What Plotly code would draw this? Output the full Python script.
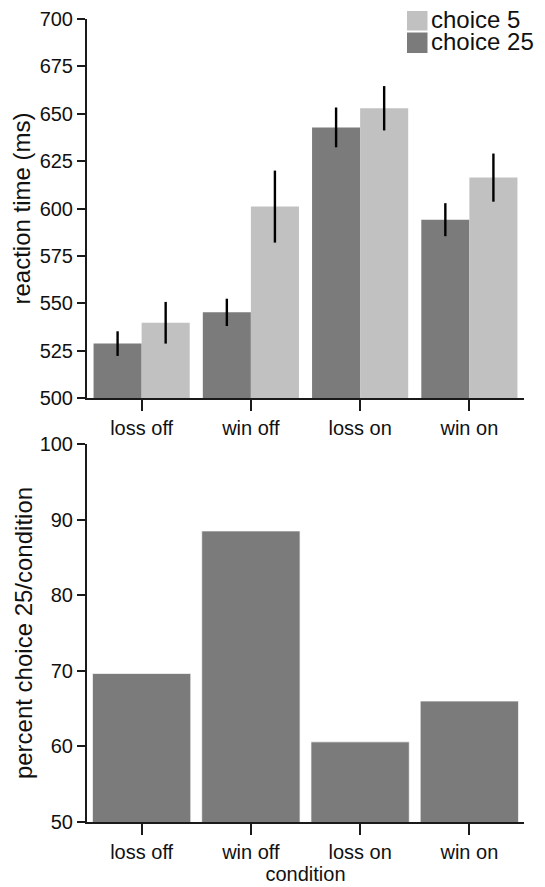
import plotly.graph_objects as go

conditions = ["loss off", "win off", "loss on", "win on"]
rt_choice25 = [528.7, 545.2, 642.8, 594.1]
rt_choice25_err = [6.5, 7.2, 10.5, 8.7]
rt_choice5 = [539.7, 601.0, 652.9, 616.3]
rt_choice5_err = [11.0, 19.0, 11.7, 12.7]
pct_choice25 = [69.65, 88.5, 60.6, 66.0]

rt_ticks = [500, 525, 550, 575, 600, 625, 650, 675, 700]
pct_ticks = [50, 60, 70, 80, 90, 100]
legend_labels = ["choice 5", "choice 25"]

DARK = "#7b7b7b"
LIGHT = "#c1c1c1"
AXC = "#1a1a1a"
FONT = "Liberation Sans, Arial, Helvetica, sans-serif"

# the page body adds an 8px margin, so the figure is drawn smaller and shifted
OFF = 8
W, H = 545 - OFF, 887 - OFF


def px(X):
    return (X - OFF) / W


def py(Y):
    return 1 - (Y - OFF) / H


fig = go.Figure()

fig.add_trace(go.Bar(
    x=conditions, y=rt_choice25, name="choice 25", showlegend=False,
    marker=dict(color=DARK, line=dict(width=0)),
    error_y=dict(type="data", array=rt_choice25_err, color="black", thickness=2.4, width=0),
    xaxis="x", yaxis="y",
))
fig.add_trace(go.Bar(
    x=conditions, y=rt_choice5, name="choice 5", showlegend=False,
    marker=dict(color=LIGHT, line=dict(width=0)),
    error_y=dict(type="data", array=rt_choice5_err, color="black", thickness=2.4, width=0),
    xaxis="x", yaxis="y",
))
fig.add_trace(go.Bar(
    x=conditions, y=pct_choice25, name="pct", showlegend=False,
    marker=dict(color=DARK, line=dict(width=1, color="rgba(255,255,255,0.7)")),
    xaxis="x2", yaxis="y2", width=0.9,
))

axis_common = dict(
    showline=True, linecolor=AXC, linewidth=2,
    ticks="outside", tickcolor=AXC, tickwidth=2,
    showgrid=False, zeroline=False, automargin=False,
    tickfont=dict(size=20, color="#111", family=FONT),
)

# manual legend (swatches as paper shapes, labels as text)
sw_left, sw_right = 407, 427.5
sw_rows = [(11, 30.5), (32.5, 53)]
text_mid = [19.3, 41.3]
swatch_colors = [LIGHT, DARK]
shapes = []
annotations = []
for (top, bot), tm, col, lab in zip(sw_rows, text_mid, swatch_colors, legend_labels):
    shapes.append(dict(type="rect", xref="paper", yref="paper",
                       x0=px(sw_left), x1=px(sw_right), y0=py(bot), y1=py(top),
                       fillcolor=col, line=dict(width=0)))
    annotations.append(dict(text=lab, xref="paper", yref="paper", showarrow=False,
                            x=px(428.5), xanchor="left", y=py(tm), yanchor="middle",
                            font=dict(size=24, family=FONT, color="#111")))

fig.update_layout(
    width=W, height=H,
    margin=dict(l=0, r=0, t=0, b=0),
    paper_bgcolor="white", plot_bgcolor="white",
    font=dict(family=FONT, color="#111"),
    barmode="group", bargap=0.12, bargroupgap=0,
    showlegend=False,
    shapes=shapes, annotations=annotations,
    xaxis=dict(domain=[px(87), px(524)], anchor="y",
               categoryorder="array", categoryarray=conditions,
               range=[-0.5, 3.5], ticklen=11, **axis_common),
    yaxis=dict(domain=[py(398), py(19)], anchor="x",
               range=[500, 700], tickvals=rt_ticks, ticklen=8,
               title=dict(text="reaction time (ms)", font=dict(size=24, family=FONT, color="#111"), standoff=4),
               **axis_common),
    xaxis2=dict(domain=[px(87), px(524)], anchor="y2",
                categoryorder="array", categoryarray=conditions,
                range=[-0.5, 3.5], ticklen=11,
                title=dict(text="condition", font=dict(size=20, family=FONT, color="#111"), standoff=3),
                **axis_common),
    yaxis2=dict(domain=[py(822), py(444)], anchor="x2",
                range=[50, 100], tickvals=pct_ticks, ticklen=8,
                title=dict(text="percent choice 25/condition", font=dict(size=24, family=FONT, color="#111"), standoff=0),
                **axis_common),
)

fig.write_html("out.html")
